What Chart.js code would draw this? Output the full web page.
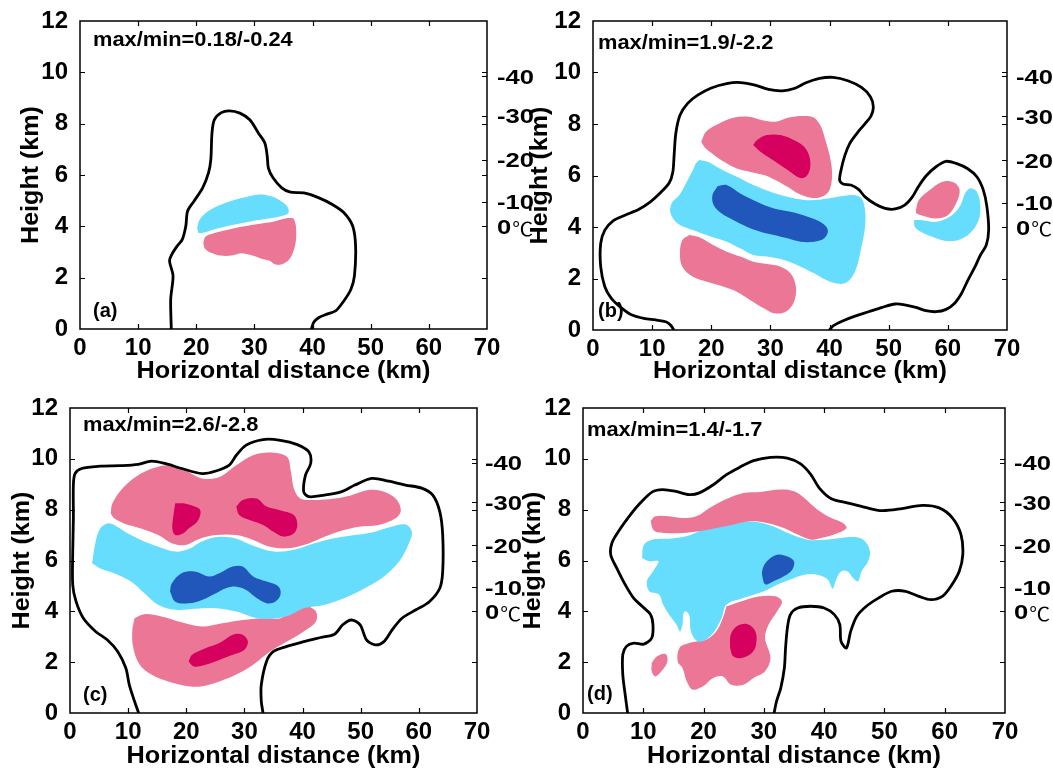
<!DOCTYPE html>
<html><head><meta charset="utf-8">
<script src="https://cdn.jsdelivr.net/npm/chart.js@4.4.0/dist/chart.umd.min.js"></script>
<style>
html,body{margin:0;padding:0;background:#fff;}
body{width:1053px;height:772px;overflow:hidden;position:relative;}
canvas{position:absolute;}
</style></head><body>
<canvas id="ca" width="545" height="392" style="left:0px;top:0px"></canvas>
<canvas id="cb" width="540" height="392" style="left:513px;top:0px"></canvas>
<canvas id="cc" width="545" height="386" style="left:0px;top:386px"></canvas>
<canvas id="cd" width="540" height="386" style="left:513px;top:386px"></canvas>
<script>
// ---- axis ticks / labels ----
const xTicks = [0,10,20,30,40,50,60,70];
const yTicks = [0,2,4,6,8,10,12];
const tempLabels = ['-40','-30','-20','-10','0'];
const tempHeights = [9.85,8.3,6.6,4.95,4.0];
const statsText = ['max/min=0.18/-0.24','max/min=1.9/-2.2','max/min=2.6/-2.8','max/min=1.4/-1.7'];
const panelTags = ['(a)','(b)','(c)','(d)'];
const xTitle = 'Horizontal distance (km)';
const yTitle = 'Height (km)';

// ---- panel (a) ----
const aOutline = [[15.7,0],[15.6,1.16],[16.0,2.07],[15.4,2.65],[15.8,2.91],[16.7,3.23],[17.6,3.49],[18.2,4.01],[18.5,4.59],[19.6,4.98],[21.1,5.5],[22.1,6.08],[22.5,6.6],[22.7,7.63],[23.1,8.15],[24.3,8.43],[25.7,8.5],[27.5,8.41],[29.2,8.15],[30.7,7.63],[31.8,7.24],[32.2,6.73],[32.4,6.27],[33.2,5.89],[34.7,5.5],[36.2,5.33],[38.5,5.3],[41.1,5.11],[43.4,4.85],[45.4,4.53],[46.9,4.01],[47.4,3.23],[47.2,2.07],[46.6,1.55],[45.4,1.1],[44.0,0.71],[42.5,0.58],[41.1,0.45],[40.2,0.26],[39.8,0]];
const aCyan = [[20.3,3.75],[20.2,4.0],[20.8,4.33],[22.5,4.66],[25.1,4.92],[28.0,5.11],[30.9,5.24],[32.7,5.18],[34.4,5.01],[35.6,4.79],[35.9,4.55],[35.3,4.44],[33.0,4.32],[29.5,4.2],[26.0,4.04],[23.0,3.88],[21.0,3.74]];
const aPink = [[21.2,3.35],[21.6,3.6],[23.0,3.73],[26.0,3.9],[29.5,4.05],[33.0,4.17],[35.8,4.32],[36.8,4.28],[37.2,3.75],[36.9,3.17],[36.0,2.72],[34.7,2.52],[33.5,2.52],[32.7,2.65],[31.2,2.74],[29.5,2.87],[27.7,2.95],[26.3,2.87],[24.5,2.85],[22.8,2.95],[21.5,3.13]];

// ---- panel (b) ----
const bOutline = [[13.7,0],[13.1,0.19],[12.3,0.32],[10.6,0.39],[8.6,0.45],[6.6,0.58],[4.9,0.84],[3.1,1.23],[2.0,1.68],[1.3,2.46],[1.3,3.36],[2.0,3.88],[3.4,4.24],[5.4,4.46],[7.7,4.68],[9.7,4.98],[11.4,5.33],[12.9,5.72],[13.5,6.14],[13.7,6.73],[14.0,7.63],[14.7,8.34],[16.0,8.8],[17.7,9.12],[20.0,9.4],[22.6,9.57],[24.9,9.61],[27.4,9.51],[29.7,9.34],[32.0,9.29],[34.0,9.38],[36.0,9.6],[38.3,9.77],[40.6,9.81],[43.1,9.68],[45.4,9.42],[46.9,9.06],[47.4,8.67],[47.0,8.31],[45.9,7.99],[44.6,7.63],[43.4,7.24],[42.6,6.79],[42.0,6.27],[41.7,5.82],[42.3,5.67],[43.6,5.63],[44.9,5.46],[46.0,5.17],[47.7,4.89],[49.4,4.72],[51.1,4.7],[52.7,4.85],[54.0,5.17],[55.0,5.56],[56.3,5.98],[58.0,6.34],[59.7,6.55],[61.4,6.47],[63.3,6.27],[64.9,5.95],[66.0,5.43],[66.6,4.79],[66.9,3.88],[66.5,3.3],[65.5,2.91],[64.6,2.46],[63.4,1.94],[62.3,1.42],[61.1,1.03],[59.7,0.8],[58.0,0.71],[56.3,0.75],[54.6,0.88],[52.9,0.97],[51.1,1.01],[48.9,0.88],[46.6,0.71],[44.3,0.54],[42.3,0.36],[40.6,0.16],[40.0,0]];
const bPinkTop = [[18.3,7.31],[19.1,7.7],[21.1,7.99],[23.7,8.24],[26.3,8.28],[28.6,8.15],[30.9,8.09],[33.1,8.25],[35.4,8.31],[37.3,8.25],[38.5,7.92],[39.3,7.37],[40.0,6.79],[40.4,6.21],[40.3,5.69],[39.7,5.33],[38.3,5.15],[36.6,5.15],[34.7,5.3],[32.9,5.56],[30.9,5.82],[28.9,6.02],[26.6,6.14],[24.3,6.27],[22.3,6.51],[20.3,6.83],[18.9,7.09]];
const bMagenta = [[27.1,7.18],[27.7,7.37],[29.4,7.57],[31.7,7.57],[34.0,7.37],[35.7,7.12],[36.6,6.73],[36.7,6.27],[36.0,5.95],[34.9,5.91],[33.4,6.14],[31.7,6.4],[30.0,6.66],[28.3,6.92]];
const bCyan = [[18.0,6.6],[19.4,6.53],[21.4,6.27],[24.3,5.95],[27.1,5.63],[30.0,5.37],[32.9,5.17],[35.7,5.05],[38.6,5.07],[41.4,5.17],[44.0,5.24],[45.4,5.11],[46.0,4.66],[46.0,4.01],[45.4,3.23],[44.6,2.46],[43.4,1.94],[42.0,1.79],[39.7,1.91],[37.4,2.2],[35.1,2.46],[32.3,2.72],[29.4,2.85],[27.1,2.91],[24.9,3.17],[22.6,3.43],[20.0,3.62],[16.9,3.88],[14.3,4.14],[13.1,4.53],[13.3,4.92],[14.6,5.24],[15.7,5.69],[16.9,6.21],[17.4,6.47]];
const bBlue = [[21.1,5.59],[22.6,5.63],[24.9,5.3],[27.7,4.98],[30.6,4.72],[33.4,4.59],[36.3,4.4],[38.6,4.17],[39.7,3.88],[39.1,3.56],[37.4,3.43],[35.1,3.43],[32.9,3.56],[30.6,3.69],[28.3,3.82],[26.0,4.01],[23.7,4.27],[21.7,4.53],[20.4,4.85],[20.2,5.24]];
const bPinkLow = [[16.3,3.69],[15.1,3.49],[14.7,2.98],[15.1,2.46],[16.9,2.07],[20.3,1.81],[23.7,1.55],[26.6,1.16],[28.9,0.84],[30.6,0.65],[32.6,0.71],[34.0,1.1],[34.3,1.68],[33.4,2.2],[31.7,2.46],[29.4,2.56],[27.1,2.65],[24.9,2.85],[22.6,3.04],[20.3,3.3],[18.0,3.6]];
const bPinkSmall = [[54.6,4.66],[55.1,5.05],[56.9,5.43],[59.1,5.76],[61.1,5.72],[62.0,5.43],[61.4,4.92],[60.0,4.46],[58.0,4.33],[56.0,4.42],[54.7,4.53]];
const bCyanSmall = [[54.3,4.27],[55.4,4.27],[58.0,4.2],[60.3,4.4],[62.0,4.79],[62.9,5.3],[63.7,5.5],[64.9,5.37],[65.5,4.79],[65.1,4.2],[63.7,3.75],[61.7,3.49],[59.4,3.47],[57.4,3.62],[55.4,3.82],[54.4,4.01]];

// ---- panel (c) ----
const cOutline = [[11.8,0],[11.1,0.46],[10.2,1.11],[9.6,1.77],[8.2,2.42],[6.4,2.88],[4.4,3.21],[2.3,3.73],[1.05,4.38],[0.47,5.04],[0.47,6.35],[0.58,7.66],[0.58,8.97],[0.87,9.42],[2.0,9.62],[5.2,9.71],[8.7,9.73],[11.7,9.78],[14.0,9.91],[16.3,9.82],[19.2,9.62],[22.7,9.42],[25.1,9.52],[27.4,9.75],[28.6,10.14],[30.3,10.54],[33.2,10.76],[36.2,10.73],[39.1,10.56],[41.1,10.27],[41.4,9.82],[40.5,9.36],[40.2,8.7],[41.1,8.51],[43.7,8.57],[46.6,8.7],[49.0,8.97],[51.9,9.23],[54.8,9.12],[57.7,8.97],[60.6,8.84],[62.4,8.57],[63.6,7.92],[64.1,7.0],[64.1,5.56],[63.6,4.91],[61.8,4.38],[59.5,4.06],[57.1,3.73],[55.4,3.27],[54.0,2.81],[52.5,2.68],[51.0,2.88],[49.9,3.47],[48.4,3.66],[46.9,3.47],[45.5,3.1],[43.1,2.97],[40.2,2.81],[37.3,2.62],[35.0,2.42],[33.8,2.03],[32.9,1.11],[32.9,0.46],[33.2,0]];
const cPinkTop = [[7.0,7.85],[7.3,8.25],[9.3,8.9],[12.2,9.42],[15.2,9.69],[17.5,9.75],[19.8,9.55],[22.7,9.23],[25.7,9.29],[28.6,9.75],[31.5,10.14],[34.4,10.25],[37.3,10.08],[38.0,9.49],[38.5,8.84],[39.6,8.44],[42.0,8.38],[45.5,8.44],[48.4,8.57],[51.3,8.77],[53.6,8.73],[56.0,8.44],[56.9,7.98],[56.0,7.66],[53.1,7.4],[49.6,7.33],[46.1,7.13],[43.1,6.87],[40.2,6.61],[37.3,6.48],[34.4,6.54],[31.5,6.81],[28.6,7.0],[25.1,7.0],[22.2,6.85],[19.8,6.61],[17.5,6.68],[15.2,7.0],[12.2,7.26],[9.3,7.46],[7.6,7.66]];
const cMagentaL = [[18.1,8.25],[19.5,8.25],[20.7,8.18],[22.4,7.98],[21.9,7.53],[20.4,7.26],[19.5,7.07],[18.1,7.0],[17.6,7.26],[17.8,7.79]];
const cMagentaR = [[28.6,8.12],[29.7,8.38],[32.1,8.44],[33.8,8.12],[36.1,7.98],[38.5,7.79],[39.1,7.4],[38.5,7.07],[36.7,6.94],[35.0,7.13],[33.2,7.4],[30.9,7.59],[29.1,7.79]];
const cCyan = [[3.8,5.89],[4.4,6.74],[5.2,7.26],[6.4,7.46],[7.6,7.4],[9.9,7.07],[12.2,6.81],[15.2,6.54],[18.1,6.35],[20.4,6.45],[22.7,6.75],[25.7,6.93],[28.6,6.86],[31.5,6.58],[35.0,6.35],[38.5,6.42],[42.0,6.68],[45.5,6.88],[49.0,7.0],[51.9,7.1],[54.8,7.3],[57.7,7.42],[58.8,7.13],[58.3,6.68],[56.6,5.96],[53.6,5.3],[50.7,4.91],[47.2,4.52],[43.7,4.25],[40.2,4.12],[37.9,3.86],[35.6,3.73],[32.1,3.73],[28.6,3.99],[25.1,4.12],[21.6,4.1],[18.1,4.06],[15.2,4.25],[12.8,4.71],[10.5,5.17],[7.6,5.5],[5.2,5.69]];
const cBlue = [[17.2,4.78],[17.5,5.1],[19.2,5.5],[21.6,5.56],[23.9,5.37],[25.7,5.5],[28.0,5.76],[29.7,5.76],[31.5,5.37],[33.8,5.17],[35.9,4.97],[36.2,4.65],[35.3,4.38],[33.8,4.32],[32.1,4.52],[30.3,4.84],[28.6,4.97],[26.8,4.91],[25.1,4.71],[22.7,4.45],[20.4,4.32],[18.1,4.38]];
const cPinkLow = [[11.1,3.73],[12.8,3.89],[15.7,3.8],[19.2,3.57],[22.7,3.4],[26.2,3.53],[29.7,3.66],[33.2,3.73],[36.2,3.73],[38.5,4.06],[40.8,4.19],[42.3,3.99],[42.3,3.6],[40.2,3.21],[37.3,2.81],[34.4,2.42],[31.5,1.9],[28.6,1.51],[25.7,1.24],[22.7,1.05],[20.4,1.05],[16.9,1.24],[14.0,1.51],[12.0,1.9],[10.9,2.55],[10.7,3.21]];
const cMagentaLow = [[20.4,2.03],[21.0,2.29],[23.3,2.55],[25.7,2.75],[28.0,3.08],[29.7,3.08],[30.6,2.81],[30.0,2.49],[28.0,2.29],[25.7,2.09],[23.3,1.9],[21.3,1.83]];

// ---- panel (d) ----
const dOutline = [[7.4,0],[7.0,0.72],[6.6,1.51],[6.6,2.3],[7.2,2.62],[8.4,2.75],[10.1,2.71],[11.4,2.95],[11.6,3.48],[11.2,3.87],[9.8,4.2],[8.4,4.52],[7.0,5.05],[5.6,5.7],[4.6,6.23],[4.8,6.69],[5.9,7.15],[8.1,7.87],[9.5,8.26],[11.5,8.7],[13.2,8.79],[15.4,8.72],[17.6,8.59],[19.3,8.66],[21.6,8.98],[23.8,9.38],[26.0,9.67],[28.3,9.93],[31.1,10.06],[33.9,10.03],[36.1,9.8],[37.8,9.38],[39.2,8.85],[41.2,8.43],[44.0,8.26],[46.8,8.09],[49.6,7.96],[52.9,8.04],[56.3,8.17],[59.1,8.07],[61.3,7.67],[62.7,7.02],[63.0,6.23],[62.4,5.57],[61.0,4.98],[59.6,4.59],[57.7,4.46],[55.7,4.59],[53.5,4.79],[51.2,4.79],[49.0,4.52],[47.0,4.2],[45.4,3.8],[44.4,3.21],[43.7,2.56],[42.8,2.82],[42.6,3.48],[41.7,3.87],[40.0,4.13],[37.8,4.2],[35.6,4.13],[34.4,3.87],[33.9,3.34],[33.6,2.56],[33.4,1.77],[32.8,0.98],[32.1,0.46],[31.7,0]];
const dPinkTop = [[11.2,7.54],[12.0,7.74],[14.3,7.74],[16.5,7.67],[18.8,7.74],[21.0,8.07],[23.8,8.42],[26.6,8.66],[29.4,8.7],[32.8,8.79],[35.0,8.72],[36.7,8.46],[38.9,8.0],[41.2,7.67],[43.1,7.48],[43.7,7.28],[42.3,7.08],[40.0,6.91],[37.8,6.82],[35.6,7.02],[33.3,7.28],[30.5,7.48],[27.7,7.54],[24.9,7.41],[22.1,7.28],[19.3,7.15],[16.5,7.08],[13.7,7.08],[11.8,7.17]];
const dCyan = [[9.8,6.1],[10.1,6.62],[11.5,6.82],[14.3,6.86],[17.1,6.95],[19.9,7.21],[22.7,7.41],[26.0,7.54],[28.8,7.51],[31.6,7.34],[34.4,7.04],[37.2,6.82],[40.0,6.82],[42.8,6.89],[45.4,6.91],[46.8,6.75],[47.6,6.36],[47.3,5.97],[46.2,5.57],[45.6,5.18],[44.8,5.31],[43.9,5.57],[42.8,5.57],[42.0,5.25],[41.4,4.89],[40.6,5.25],[38.9,5.44],[36.7,5.44],[34.4,5.25],[32.2,5.05],[30.0,4.79],[26.6,4.52],[23.8,4.26],[23.0,3.74],[21.6,3.15],[19.9,2.82],[18.8,2.85],[17.9,3.21],[17.6,3.87],[16.8,3.99],[16.5,3.48],[16.1,3.21],[15.5,3.48],[14.3,3.87],[13.3,4.26],[12.6,4.66],[11.0,4.79],[10.6,5.18],[11.8,5.64],[12.5,5.97],[11.0,5.97]];
const dBlue = [[30.0,5.11],[29.7,5.57],[30.5,5.97],[32.2,6.23],[33.9,6.16],[35.0,5.97],[34.7,5.64],[33.3,5.38],[31.6,5.18],[30.4,5.05]];
const dPinkLow = [[23.8,4.2],[26.6,4.42],[29.4,4.59],[31.9,4.59],[33.0,4.39],[32.2,4.0],[30.8,3.48],[30.2,2.95],[31.1,2.16],[30.2,1.64],[28.3,1.38],[26.6,1.11],[24.6,1.11],[23.2,1.44],[21.6,1.38],[19.9,1.05],[18.2,0.92],[17.2,1.25],[16.5,1.77],[15.7,2.03],[16.0,2.56],[17.6,2.75],[19.0,2.82],[20.4,2.88],[22.1,3.21],[23.2,3.74]];
const dMagenta = [[24.4,2.56],[24.5,3.08],[25.5,3.41],[27.2,3.5],[28.6,3.21],[28.7,2.69],[28.0,2.36],[26.3,2.16],[24.9,2.23]];
const dPinkSmall = [[11.4,1.97],[12.3,2.23],[13.7,2.32],[14.0,2.03],[13.0,1.64],[12.0,1.44],[11.4,1.64]];

// ---- colours ----
const PINK = 'rgb(236,118,150)';
const MAGENTA = 'rgb(214,0,94)';
const CYAN = 'rgb(102,221,252)';
const BLUE = 'rgb(33,86,187)';

const FONT = '"Liberation Sans", Arial, Helvetica, sans-serif';

const panels = [
  {id:'ca', idx:0, outline:aOutline, shapes:[[aPink,PINK],[aCyan,CYAN]],
   yW:80, xH:63, padT:21, padR:58, stats:[13,20], tag:[13,-18], yT:-48, xT:43, tmp:10},
  {id:'cb', idx:1, outline:bOutline, shapes:[[bMagenta,MAGENTA],[bBlue,BLUE],[bPinkTop,PINK],[bCyan,CYAN],[bPinkLow,PINK],[bPinkSmall,PINK],[bCyanSmall,CYAN]],
   yW:80, xH:62, padT:21, padR:46, stats:[5,23], tag:[5,-19], yT:-52, xT:42, tmp:9},
  {id:'cc', idx:2, outline:cOutline, shapes:[[cMagentaL,MAGENTA],[cMagentaR,MAGENTA],[cMagentaLow,MAGENTA],[cBlue,BLUE],[cPinkTop,PINK],[cCyan,CYAN],[cPinkLow,PINK]],
   yW:70, xH:59, padT:22, padR:68, stats:[13,18], tag:[13,-18], yT:-47, xT:44, tmp:8},
  {id:'cd', idx:3, outline:dOutline, shapes:[[dMagenta,MAGENTA],[dBlue,BLUE],[dPinkTop,PINK],[dCyan,CYAN],[dPinkLow,PINK],[dPinkSmall,PINK]],
   yW:70, xH:59, padT:22, padR:48, stats:[4,23], tag:[4,-19], yT:-49, xT:44, tmp:9}
];

function toXY(arr, close){
  const out = arr.map(p => ({x:p[0], y:p[1]}));
  if (close) out.push({x:arr[0][0], y:arr[0][1]});
  return out;
}

function sText(ctx, text, x, y, size, sx, align, weight, family){
  ctx.save();
  ctx.font = weight + ' ' + size + 'px ' + (family || FONT);
  ctx.textBaseline = 'middle';
  ctx.textAlign = align;
  ctx.translate(x, y);
  ctx.scale(sx, 1);
  ctx.fillText(text, 0, 0);
  const w = ctx.measureText(text).width * sx;
  ctx.restore();
  return w;
}

function overlay(p){
  return {
    id:'overlay_' + p.id,
    afterDatasetsDraw(chart){
      const ctx = chart.ctx, a = chart.chartArea, xs = chart.scales.x, ys = chart.scales.y;
      ctx.save();
      ctx.fillStyle = '#000';
      ctx.strokeStyle = '#000';
      // frame
      ctx.lineWidth = 1.5;
      ctx.strokeRect(a.left, a.top, a.right - a.left, a.bottom - a.top);
      // inner tick marks
      const T = 5;
      ctx.lineWidth = 1.2;
      ctx.beginPath();
      xs.ticks.forEach(t => {
        if (t.value <= xs.min || t.value >= xs.max) return;
        const px = Math.round(xs.getPixelForValue(t.value)) + 0.5;
        ctx.moveTo(px, a.bottom); ctx.lineTo(px, a.bottom - T);
        ctx.moveTo(px, a.top); ctx.lineTo(px, a.top + T);
      });
      ys.ticks.forEach(t => {
        if (t.value <= ys.min || t.value >= ys.max) return;
        const py = Math.round(ys.getPixelForValue(t.value)) + 0.5;
        ctx.moveTo(a.left, py); ctx.lineTo(a.left + T, py);
        ctx.moveTo(a.right, py); ctx.lineTo(a.right - T, py);
      });
      tempHeights.forEach(h => {
        const py = Math.round(ys.getPixelForValue(h)) + 0.5;
        ctx.moveTo(a.right, py); ctx.lineTo(a.right - T, py);
      });
      ctx.stroke();
      // temperature labels on the right
      tempLabels.forEach((lab, i) => {
        const py = ys.getPixelForValue(tempHeights[i]) + 2;
        const lx = a.right + p.tmp;
        const w = sText(ctx, lab, lx, py, 20, 1.28, 'left', 'bold');
        if (lab === '0') sText(ctx, '\u2103', lx + w + 1, py, 19, 1.1, 'left', 'normal', '"Noto Sans CJK SC", "DejaVu Sans", sans-serif');
      });
      // stats text and panel tag
      sText(ctx, statsText[p.idx], a.left + p.stats[0], a.top + p.stats[1], 19.5, 1.12, 'left', 'bold');
      sText(ctx, panelTags[p.idx], a.left + p.tag[0], a.bottom + p.tag[1], 20, 1.0, 'left', 'bold');
      // axis titles
      sText(ctx, xTitle, (a.left + a.right) / 2, a.bottom + p.xT, 23, 1.1, 'center', 'bold');
      ctx.save();
      ctx.translate(a.left + p.yT, (a.top + a.bottom) / 2);
      ctx.rotate(-Math.PI / 2);
      sText(ctx, yTitle, 0, 0, 23, 1.09, 'center', 'bold');
      ctx.restore();
      ctx.restore();
    }
  };
}

panels.forEach(p => {
  const datasets = [{
    data: toXY(p.outline, false), borderColor:'#000', borderWidth:2.8,
    fill:false, tension:0.3, pointRadius:0, borderCapStyle:'round', borderJoinStyle:'round'
  }];
  p.shapes.forEach(s => datasets.push({
    data: toXY(s[0], true), borderWidth:0, borderColor:'rgba(0,0,0,0)',
    backgroundColor:s[1], fill:'shape', tension:0.35, pointRadius:0
  }));
  const xFont = {family:FONT, size:24, weight:'bold', lineHeight:1.0};
  const yFont = {family:FONT, size:24, weight:'bold', lineHeight:1.2};
  new Chart(document.getElementById(p.id), {
    type:'line',
    data:{datasets},
    options:{
      responsive:false, animation:false, devicePixelRatio:1,
      layout:{padding:{left:0, right:p.padR, top:p.padT, bottom:0}},
      plugins:{legend:{display:false}, tooltip:{enabled:false}},
      elements:{point:{radius:0}},
      scales:{
        x:{type:'linear', min:xTicks[0], max:xTicks[xTicks.length-1],
           afterBuildTicks:s => { s.ticks = xTicks.map(v => ({value:v})); },
           ticks:{font:xFont, color:'#000', padding:-1, maxRotation:0, autoSkip:false},
           grid:{display:false}, border:{display:false},
           afterFit:s => { s.height = p.xH; }},
        y:{type:'linear', min:yTicks[0], max:yTicks[yTicks.length-1],
           afterBuildTicks:s => { s.ticks = yTicks.map(v => ({value:v})); },
           ticks:{font:yFont, color:'#000', padding:4, autoSkip:false},
           grid:{display:false}, border:{display:false},
           afterFit:s => { s.width = p.yW; }}
      }
    },
    plugins:[overlay(p)]
  });
});
</script>
</body></html>
